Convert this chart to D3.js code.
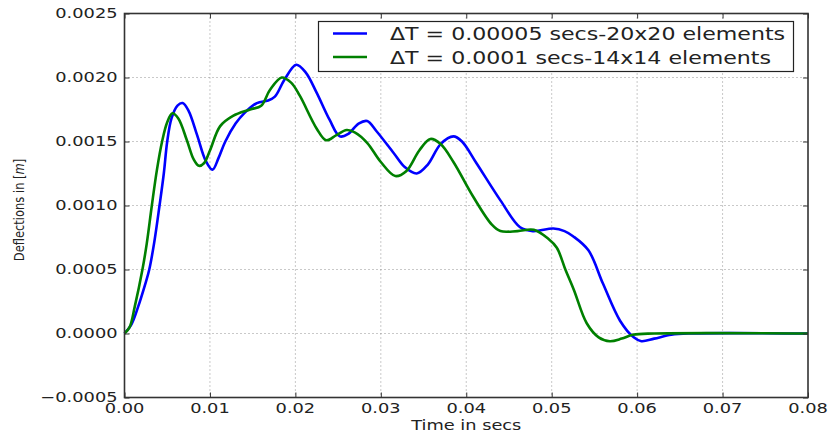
<!DOCTYPE html>
<html>
<head>
<meta charset="utf-8">
<script src="https://cdn.jsdelivr.net/npm/d3@7"></script>
<style>
  html, body { margin: 0; padding: 0; background: #fff; }
  text { font-family: "DejaVu Sans", sans-serif; fill: #222; }
</style>
</head>
<body>
<svg id="chart" width="828" height="437"></svg>
<script>
// Deflection history for the two mesh / time-step configurations
const seriesNames = [
  "\u0394T = 0.00005 secs-20x20 elements",
  "\u0394T = 0.0001 secs-14x14 elements"
];
const seriesColors = ["#0000ff", "#008000"];

// [time (s), deflection (m)]
const fineMesh = [
  [0, 0], [0.0008, 0.00007], [0.0016, 0.00021], [0.0024, 0.00038], [0.0029, 0.0005],
  [0.0035, 0.00072], [0.0041, 0.001], [0.0046, 0.00125], [0.0050, 0.0015], [0.0055, 0.00168],
  [0.0062, 0.00178], [0.0068, 0.0018], [0.0075, 0.00174], [0.0085, 0.00155], [0.0095, 0.00135],
  [0.0103, 0.00128], [0.0110, 0.00137], [0.0118, 0.0015], [0.0130, 0.00164], [0.0140, 0.00172],
  [0.0155, 0.0018], [0.0168, 0.00182], [0.0176, 0.00185], [0.0187, 0.00198], [0.0201, 0.0021],
  [0.0212, 0.00204], [0.0225, 0.00188], [0.0240, 0.00167], [0.0252, 0.00154], [0.0262, 0.00156],
  [0.0274, 0.00164], [0.0284, 0.00166], [0.0295, 0.00158], [0.0315, 0.00141], [0.0328, 0.0013],
  [0.0342, 0.00125], [0.0355, 0.00132], [0.0370, 0.00148], [0.0385, 0.00154], [0.0395, 0.0015],
  [0.0412, 0.00133], [0.0440, 0.00104], [0.0463, 0.00083], [0.0478, 0.0008], [0.0502, 0.00082],
  [0.0515, 0.0008], [0.0525, 0.00076], [0.0543, 0.00065], [0.0560, 0.00039], [0.0580, 0.0001],
  [0.0596, -0.00003], [0.0605, -0.00006], [0.0620, -0.00004], [0.0640, -0.00001], [0.0660, 0],
  [0.0800, 0]
];
const coarseMesh = [
  [0, 0], [0.0006, 0.00005], [0.0012, 0.00021], [0.0021, 0.0005], [0.0026, 0.0007],
  [0.0032, 0.001], [0.0038, 0.00128], [0.0044, 0.0015], [0.0050, 0.00165], [0.0056, 0.00172],
  [0.0063, 0.00168], [0.0073, 0.00151], [0.0081, 0.00136], [0.0087, 0.00131], [0.0093, 0.00133],
  [0.0100, 0.00143], [0.0112, 0.00162], [0.0127, 0.0017], [0.0147, 0.00175], [0.0160, 0.00178],
  [0.0170, 0.0019], [0.0184, 0.002], [0.0195, 0.00196], [0.0205, 0.00186], [0.0225, 0.0016],
  [0.0236, 0.00151], [0.0248, 0.00155], [0.0260, 0.00159], [0.0270, 0.00157], [0.0284, 0.00149],
  [0.0300, 0.00134], [0.0317, 0.00123], [0.0330, 0.00127], [0.0345, 0.00143], [0.0358, 0.00152],
  [0.0370, 0.00148], [0.0385, 0.00134], [0.0408, 0.00107], [0.0430, 0.00085], [0.0440, 0.0008],
  [0.0460, 0.0008], [0.0479, 0.00081], [0.0496, 0.00074], [0.0506, 0.00067], [0.0516, 0.0005],
  [0.0526, 0.00034], [0.0541, 0.00008], [0.0555, -0.00003], [0.0568, -0.00006], [0.0582, -0.00004],
  [0.0595, -0.00001], [0.0620, 0], [0.0800, 0]
];
const series = [fineMesh, coarseMesh];

const xTicks = [0, 0.01, 0.02, 0.03, 0.04, 0.05, 0.06, 0.07, 0.08];
const yTicks = [-0.0005, 0, 0.0005, 0.001, 0.0015, 0.002, 0.0025];
const xTickLabels = ["0.00", "0.01", "0.02", "0.03", "0.04", "0.05", "0.06", "0.07", "0.08"];
const yTickLabels = ["\u22120.0005", "0.0000", "0.0005", "0.0010", "0.0015", "0.0020", "0.0025"];

const svg = d3.select("#chart");
const plotL = 124.5, plotR = 808, plotT = 13.5, plotB = 397.5;
const stretch = 1.27; // horizontal text stretch

const x = d3.scaleLinear().domain([0, 0.08]).range([plotL, plotR]);
const y = d3.scaleLinear().domain([-0.0005, 0.0025]).range([plotB, plotT]);

// grid
const grid = svg.append("g").attr("stroke", "#777").attr("stroke-width", 0.8)
  .attr("stroke-dasharray", "1,3");
xTicks.slice(1, -1).forEach(t => {
  grid.append("line").attr("x1", x(t)).attr("x2", x(t)).attr("y1", plotT).attr("y2", plotB);
});
yTicks.slice(1, -1).forEach(t => {
  grid.append("line").attr("x1", plotL).attr("x2", plotR).attr("y1", y(t)).attr("y2", y(t));
});

// curves
const line = d3.line().x(d => x(d[0])).y(d => y(d[1])).curve(d3.curveCatmullRom.alpha(0.5));
const plot = svg.append("g");
series.forEach((s, i) => {
  plot.append("path").datum(s).attr("d", line).attr("fill", "none")
    .attr("stroke", seriesColors[i]).attr("stroke-width", 2.6).attr("stroke-linejoin", "round");
});

// inward ticks on all four sides
const axisB = d3.axisBottom(x).tickValues(xTicks).tickSize(-5).tickFormat("");
const axisT = d3.axisTop(x).tickValues(xTicks).tickSize(-5).tickFormat("");
const axisL = d3.axisLeft(y).tickValues(yTicks).tickSize(-5).tickFormat("");
const axisR = d3.axisRight(y).tickValues(yTicks).tickSize(-5).tickFormat("");
[[axisB, `translate(0,${plotB})`], [axisT, `translate(0,${plotT})`],
 [axisL, `translate(${plotL},0)`], [axisR, `translate(${plotR},0)`]].forEach(([ax, tr]) => {
  const g = svg.append("g").attr("transform", tr).call(ax);
  g.select(".domain").remove();
  g.selectAll(".tick line").attr("stroke", "#333").attr("stroke-width", 1);
});

// frame
svg.append("rect").attr("x", plotL).attr("y", plotT).attr("width", plotR - plotL).attr("height", plotB - plotT)
  .attr("fill", "none").attr("stroke", "#333").attr("stroke-width", 1.6);

// tick labels
function stretchedText(px, py, str, size, anchor) {
  const g = svg.append("g").attr("transform", `translate(${px},${py}) scale(${stretch},1)`);
  return g.append("text").attr("text-anchor", anchor).attr("font-size", size).text(str);
}
xTicks.forEach((t, i) => stretchedText(x(t), plotB + 15, xTickLabels[i], 14, "middle"));
yTicks.forEach((t, i) => stretchedText(plotL - 7, y(t) + 4.5, yTickLabels[i], 14, "end"));

// axis titles
stretchedText((plotL + plotR) / 2, 430, "Time in secs", 14, "middle");
const yl = svg.append("g").attr("transform", `translate(24,210) scale(${stretch},1) rotate(-90)`)
  .append("text").attr("text-anchor", "middle").attr("font-size", 11.5);
yl.append("tspan").text("Deflections in ");
yl.append("tspan").text("[");
yl.append("tspan").attr("font-style", "italic").text("m");
yl.append("tspan").text("]");

// legend
const lg = svg.append("g");
lg.append("rect").attr("x", 318.5).attr("y", 21.5).attr("width", 475).attr("height", 50)
  .attr("fill", "#fff").attr("stroke", "#222").attr("stroke-width", 1.2);
seriesNames.forEach((name, i) => {
  const ly = 33.5 + i * 23.5;
  lg.append("line").attr("x1", 333).attr("x2", 367).attr("y1", ly).attr("y2", ly)
    .attr("stroke", seriesColors[i]).attr("stroke-width", 2.6);
  stretchedText(390, ly + 6.5, name, 17.4, "start");
});
</script>
</body>
</html>
